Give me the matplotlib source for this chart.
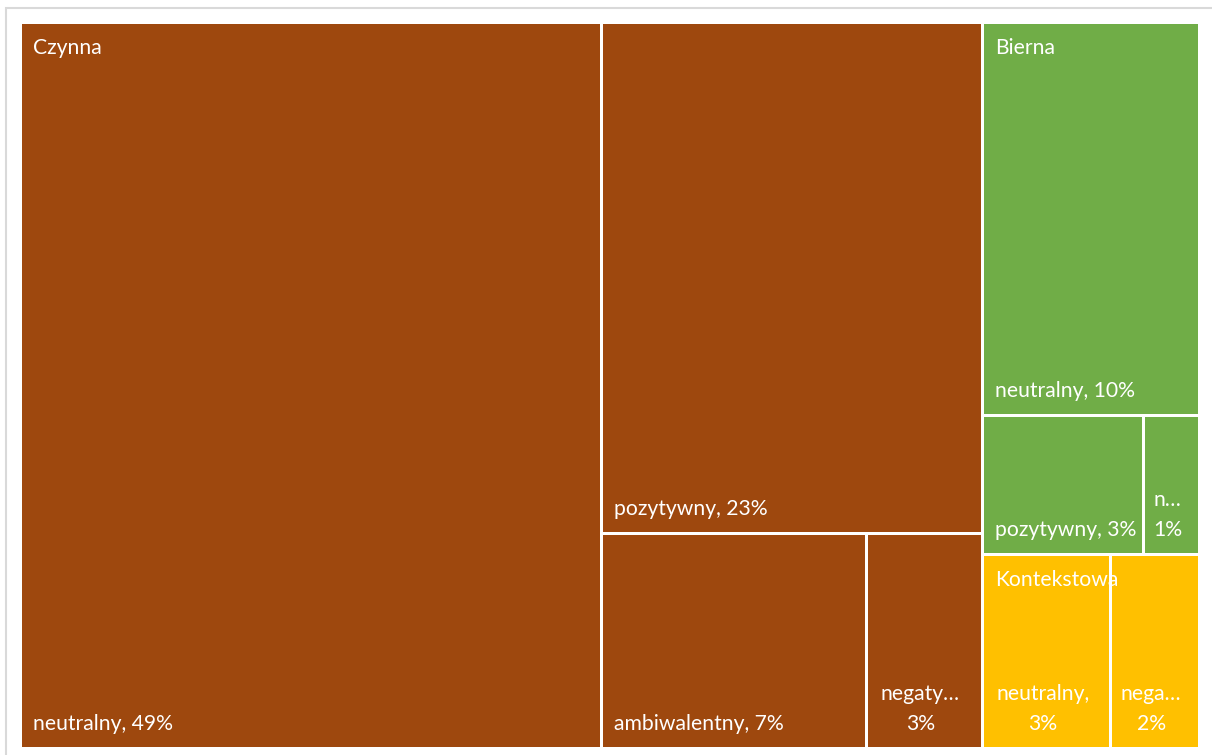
import matplotlib.pyplot as plt
from matplotlib.patches import Rectangle

# data (percent of all mentions)
groups = ["Czynna", "Bierna", "Kontekstowa"]
group_colors = ["#9E480E", "#70AD47", "#FFC000"]

czynna_names = ["neutralny", "pozytywny", "ambiwalentny", "negatywny"]
czynna_values = [49.0, 22.6, 6.6, 2.9]
bierna_names = ["neutralny", "pozytywny", "negatywny"]
bierna_values = [9.9, 2.6, 0.9]
kontekstowa_names = ["neutralny", "negatywny"]
kontekstowa_values = [2.9, 2.0]

group_names = [czynna_names, bierna_names, kontekstowa_names]
group_values = [czynna_values, bierna_values, kontekstowa_values]

FONT = "Lato"
FS = 15.2
GAP = 1.5
PAD = 11


def split(values, x, y, w, h):
    # cut off the first item along the longer side, then recurse on the rest
    rects = []
    for i, v in enumerate(values):
        if i == len(values) - 1:
            rects.append((x, y, w, h))
            break
        f = v / sum(values[i:])
        if w >= h:
            rects.append((x, y, w * f, h))
            x += w * f
            w -= w * f
        else:
            rects.append((x, y, w, h * f))
            y += h * f
            h -= h * f
    return rects


fig = plt.figure(figsize=(12.12, 7.55), dpi=100)
W, H = 1179, 726
ax = fig.add_axes([20.5 / 1212, (755 - 748.5) / 755, W / 1212, H / 755])
ax.set_xlim(0, W)
ax.set_ylim(H, 0)
ax.axis("off")

# light frame round the chart
fig.patches.append(Rectangle((6 / 1212, -0.05), 1.1, (755 - 8) / 755 + 0.05,
                             transform=fig.transFigure, fill=False,
                             edgecolor="#D9D9D9", lw=1.5))

renderer = fig.canvas.get_renderer()


def text_w(s):
    t = ax.text(0, 0, s, fontsize=FS, family=FONT)
    bb = t.get_window_extent(renderer)
    t.remove()
    return bb.width


group_totals = [sum(v) for v in group_values]
outer = split(group_totals, 0, 0, W, H)

for g, (gx, gy, gw, gh) in enumerate(outer):
    leaves = split(group_values[g], gx, gy, gw, gh)
    for k, (x, y, w, h) in enumerate(leaves):
        ax.add_patch(Rectangle((x + GAP, y + GAP), w - 2 * GAP, h - 2 * GAP,
                               facecolor=group_colors[g], edgecolor="none"))
        name = group_names[g][k]
        pct = f"{round(group_values[g][k])}%"
        label = f"{name}, {pct}"
        if text_w(label) <= w - 14:
            ax.text(x + GAP + PAD, y + h - 18.5, label, color="white",
                    fontsize=FS, family=FONT, ha="left", va="baseline")
        else:
            first = name + ","
            if text_w(first) > w - 26:
                n = len(name)
                while n > 1 and text_w(name[:n] + "…") > w - 26:
                    n -= 1
                first = name[:n] + "…"
            ax.text(x + w / 2 - 4, y + h - 18.5, first + "\n" + pct, color="white",
                    fontsize=FS, family=FONT, ha="center", va="baseline",
                    multialignment="center", linespacing=1.62)
    fx, fy = leaves[0][0], leaves[0][1]
    ax.text(fx + GAP + PAD, fy + 16, groups[g], color="white",
            fontsize=FS, family=FONT, ha="left", va="top")

fig.savefig("out.png", dpi=100)
